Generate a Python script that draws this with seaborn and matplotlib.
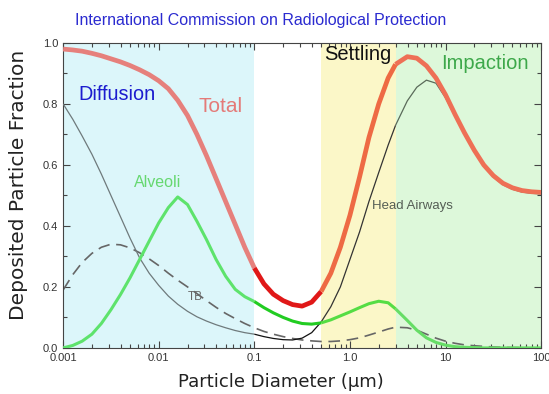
import matplotlib
matplotlib.use("Agg")
import numpy as np
import pandas as pd
import matplotlib.pyplot as plt
import seaborn as sns

# Deposition curves (particle diameter in um)
diameter = [0.001, 0.00126, 0.00158, 0.002, 0.00251, 0.00316, 0.00398, 0.00501, 0.00631, 0.00794,
            0.01, 0.0126, 0.0158, 0.02, 0.0251, 0.0316, 0.0398, 0.0501, 0.0631, 0.0794,
            0.1, 0.126, 0.158, 0.2, 0.251, 0.316, 0.398, 0.5, 0.631, 0.794,
            1.0, 1.26, 1.58, 2.0, 2.51, 3.0, 3.98, 5.01, 6.31, 7.94,
            10, 12.6, 15.8, 20, 25.1, 31.6, 39.8, 50.1, 63.1, 79.4,
            100]
total = [0.980, 0.977, 0.973, 0.966, 0.958, 0.948, 0.938, 0.926, 0.912, 0.896,
         0.876, 0.850, 0.812, 0.762, 0.700, 0.630, 0.555, 0.480, 0.405, 0.330,
         0.262, 0.210, 0.176, 0.155, 0.142, 0.137, 0.150, 0.185, 0.245, 0.330,
         0.435, 0.560, 0.690, 0.800, 0.885, 0.930, 0.955, 0.950, 0.925, 0.885,
         0.830, 0.765, 0.705, 0.648, 0.600, 0.565, 0.540, 0.525, 0.516, 0.512,
         0.510]
head_airways = [0.800, 0.750, 0.695, 0.635, 0.570, 0.500, 0.430, 0.360, 0.295, 0.245,
                0.205, 0.170, 0.143, 0.120, 0.102, 0.088, 0.076, 0.066, 0.057, 0.050,
                0.045, 0.037, 0.031, 0.027, 0.026, 0.032, 0.050, 0.085, 0.135, 0.200,
                0.290, 0.380, 0.480, 0.575, 0.665, 0.730, 0.810, 0.855, 0.878, 0.868,
                0.820, 0.760, 0.700, 0.645, 0.597, 0.560, 0.535, 0.520, 0.511, 0.507,
                0.505]
alveoli = [0.000, 0.008, 0.022, 0.045, 0.080, 0.125, 0.175, 0.230, 0.290, 0.350,
           0.410, 0.460, 0.495, 0.470, 0.415, 0.355, 0.290, 0.235, 0.192, 0.168,
           0.152, 0.132, 0.115, 0.100, 0.088, 0.080, 0.078, 0.082, 0.092, 0.105,
           0.118, 0.132, 0.145, 0.153, 0.148, 0.128, 0.090, 0.058, 0.033, 0.018,
           0.009, 0.004, 0.002, 0.001, 0.0, 0.0, 0.0, 0.0, 0.0, 0.0,
           0.0]
tb = [0.190, 0.240, 0.280, 0.310, 0.330, 0.340, 0.338, 0.328, 0.312, 0.292,
      0.270, 0.245, 0.222, 0.200, 0.178, 0.155, 0.133, 0.113, 0.096, 0.080,
      0.066, 0.054, 0.045, 0.037, 0.031, 0.026, 0.023, 0.021, 0.021, 0.023,
      0.027, 0.033, 0.042, 0.052, 0.062, 0.068, 0.066, 0.058, 0.045, 0.032,
      0.022, 0.015, 0.010, 0.007, 0.005, 0.003, 0.002, 0.001, 0.001, 0.0,
      0.0]

# deposition mechanism zones
zone_names = ["diffusion", "gap", "settling", "impaction"]
zone_lo = [0.001, 0.1, 0.5, 3.0]
zone_hi = [0.1, 0.5, 3.0, 100]
zone_bg = {"diffusion": "#dcf6fa", "gap": "#ffffff", "settling": "#fbf7c8", "impaction": "#ddf8da"}

# curve colours change with the zone they cross
curve_colors = {
    "total": {"diffusion": "#e6807c", "gap": "#e01818", "settling": "#ee6a44", "impaction": "#ee7056"},
    "alveoli": {"diffusion": "#5ee36c", "gap": "#22cc22", "settling": "#55dd44", "impaction": "#66dd66"},
    "head_airways": {"diffusion": "#6f7a7c", "gap": "#111111", "settling": "#333333", "impaction": "#5a6a5a"},
}
curve_widths = {"total": 3.4, "alveoli": 2.2, "head_airways": 0.9}

df = pd.DataFrame({"d": diameter, "total": total, "head_airways": head_airways,
                   "alveoli": alveoli, "tb": tb})

sns.set_style("ticks")
plt.rcParams['font.family'] = ['Liberation Sans', 'DejaVu Sans']

fig = plt.figure(figsize=(5.49, 3.94), dpi=100)
ax = fig.add_axes([0.115, 0.117, 0.8707, 0.774])
ax.set_xscale("log")

for name, lo, hi in zip(zone_names, zone_lo, zone_hi):
    ax.axvspan(lo, hi, color=zone_bg[name], lw=0, zorder=0)

# TB dashed line under the others
sns.lineplot(data=df, x="d", y="tb", color="#666666", lw=1.2,
             linestyle=(0, (7, 4)), ax=ax, zorder=2)

for curve in ["head_airways", "alveoli", "total"]:
    for name, lo, hi in zip(zone_names, zone_lo, zone_hi):
        part = df[(df["d"] >= lo) & (df["d"] <= hi)]
        sns.lineplot(data=part, x="d", y=curve, color=curve_colors[curve][name],
                     lw=curve_widths[curve], ax=ax, zorder=3,
                     solid_capstyle="butt", solid_joinstyle="round")

ax.set_xlim(0.001, 100)
ax.set_ylim(0, 1.0)

xticks = [0.001, 0.01, 0.1, 1.0, 10, 100]
xtick_labels = ["0.001", "0.01", "0.1", "1.0", "10", "100"]
ax.set_xticks(xticks)
ax.set_xticklabels(xtick_labels)
ax.xaxis.set_minor_locator(matplotlib.ticker.LogLocator(base=10, subs=np.arange(2, 10)))
ax.xaxis.set_minor_formatter(matplotlib.ticker.NullFormatter())
ax.set_yticks([0.0, 0.2, 0.4, 0.6, 0.8, 1.0])
ax.set_yticklabels(["0.0", "0.2", "0.4", "0.6", "0.8", "1.0"])
ax.yaxis.set_minor_locator(matplotlib.ticker.MultipleLocator(0.1))
ax.tick_params(which="both", direction="in", top=True, right=True,
               colors="#444444", labelsize=8, labelcolor="#333333", width=0.8)
ax.tick_params(which="major", length=5)
ax.tick_params(which="minor", length=3)
for sp in ax.spines.values():
    sp.set_color("#444444")
    sp.set_linewidth(0.8)

ax.set_xlabel("Particle Diameter (μm)", family="DejaVu Sans", fontsize=13,
              color="#222222", va="center")
ax.xaxis.set_label_coords(0.456, -0.111)
ax.set_ylabel("Deposited Particle Fraction", family="DejaVu Sans", fontsize=14.5,
              color="#222222", va="center")
ax.yaxis.set_label_coords(-0.094, 0.534)

# zone and curve labels
ax.text(0.031, 0.83, "Diffusion", transform=ax.transAxes, fontsize=14.3,
        color="#1c1ccf", va="center", ha="left")
ax.text(0.283, 0.79, "Total", transform=ax.transAxes, fontsize=15,
        color="#e47a78", va="center", ha="left")
ax.text(0.546, 0.961, "Settling", transform=ax.transAxes, fontsize=14.5,
        color="#111111", va="center", ha="left")
ax.text(0.791, 0.934, "Impaction", transform=ax.transAxes, fontsize=14.5,
        color="#3da84a", va="center", ha="left")
ax.text(0.148, 0.541, "Alveoli", transform=ax.transAxes, fontsize=11.5,
        color="#66d870", va="center", ha="left")
ax.text(0.260, 0.168, "TB", transform=ax.transAxes, fontsize=8.5,
        color="#666666", va="center", ha="left")
ax.text(0.647, 0.466, "Head Airways", transform=ax.transAxes, fontsize=9.5,
        color="#555e55", va="center", ha="left")

fig.text(0.474, 0.949, "International Commission on Radiological Protection",
         fontsize=11.5, color="#2b2bd0", ha="center", va="center")

plt.savefig("out.png", dpi=100)
